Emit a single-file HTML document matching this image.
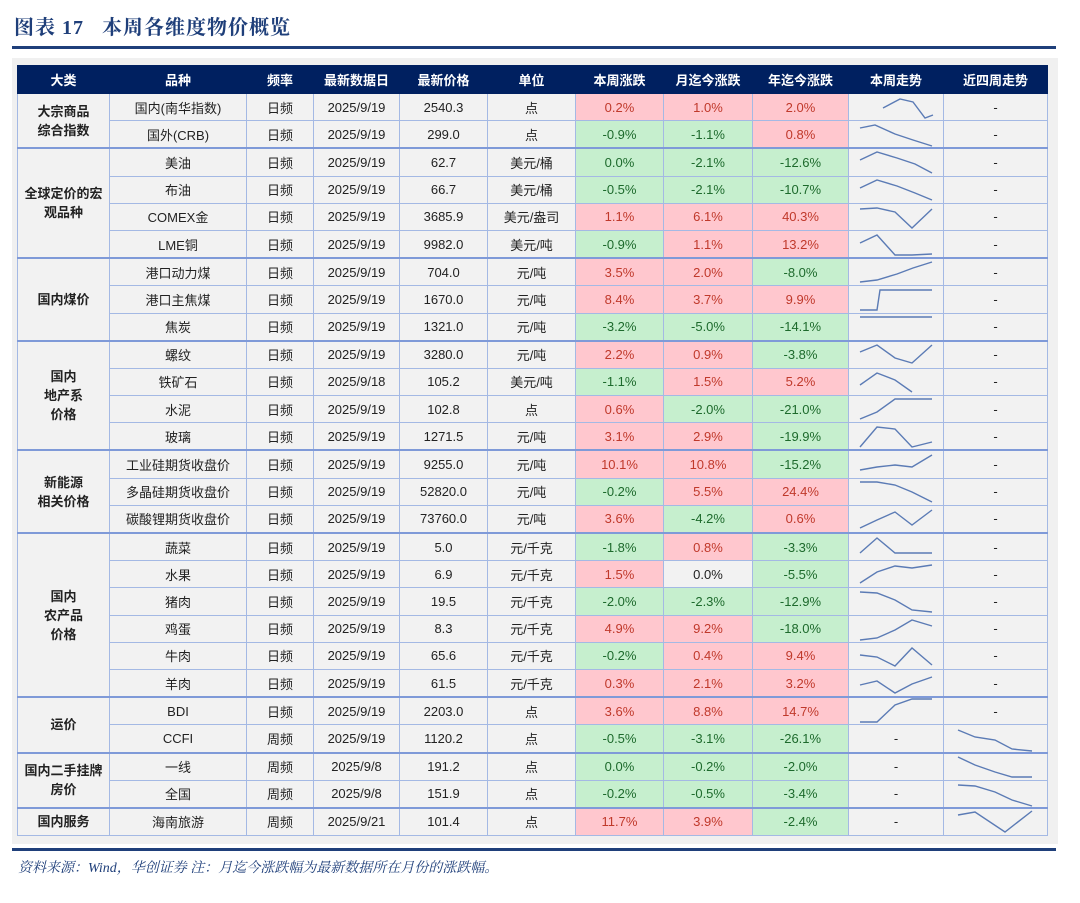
<!DOCTYPE html>
<html><head><meta charset="utf-8"><style>
body{margin:0;width:1080px;height:903px;background:#fff;position:relative;font-family:"Liberation Sans","Noto Sans CJK SC",sans-serif;overflow:hidden}
.title{position:absolute;left:14px;top:11px;font-family:"Liberation Serif","Noto Serif CJK SC",serif;font-size:20px;font-weight:bold;color:#1f3f7a;letter-spacing:1px}
.rule{position:absolute;left:12px;width:1044px;background:#1f3f7a}
.panel{position:absolute;left:12px;top:58px;width:1046px;height:786px;background:#f0f0f0}
table{position:absolute;left:17px;top:65px;width:1030px;border-collapse:collapse;table-layout:fixed;font-size:13px;color:#222}
td,th{border:1px solid #a4b9e4;text-align:center;padding:0;height:26.2px;background:#f2f2f2;white-space:nowrap;overflow:hidden}
th{background:#002060;color:#fff;font-weight:bold;height:27px;border-color:#002060}
td.c{font-weight:bold;white-space:normal;line-height:19px}
.r{background:#ffc7ce;color:#c0392b}
.g{background:#c6efce;color:#1d6a2c}
tr.s td{border-top:2px solid #7f9ad8}
.foot{position:absolute;left:18px;top:857px;font-family:"Liberation Serif","Noto Serif CJK SC",serif;font-style:italic;font-size:14px;color:#1f3f7a}
svg{position:absolute;left:0;top:0}
</style></head><body>
<div class="title">图表 17&nbsp;&nbsp;&nbsp;本周各维度物价概览</div>
<div class="rule" style="top:46px;height:3px"></div>
<div class="panel"></div>
<table>
<colgroup><col style="width:92px"><col style="width:137px"><col style="width:67px"><col style="width:86px"><col style="width:88px"><col style="width:88px"><col style="width:88px"><col style="width:89px"><col style="width:96px"><col style="width:95px"><col style="width:104px"></colgroup>
<tr><th>大类</th><th>品种</th><th>频率</th><th>最新数据日</th><th>最新价格</th><th>单位</th><th>本周涨跌</th><th>月迄今涨跌</th><th>年迄今涨跌</th><th>本周走势</th><th>近四周走势</th></tr>
<tr><td class="c" rowspan="2">大宗商品<br>综合指数</td><td>国内(南华指数)</td><td>日频</td><td>2025/9/19</td><td>2540.3</td><td>点</td><td class="r">0.2%</td><td class="r">1.0%</td><td class="r">2.0%</td><td></td><td>-</td></tr>
<tr><td>国外(CRB)</td><td>日频</td><td>2025/9/19</td><td>299.0</td><td>点</td><td class="g">-0.9%</td><td class="g">-1.1%</td><td class="r">0.8%</td><td></td><td>-</td></tr>
<tr class="s"><td class="c" rowspan="4">全球定价的宏<br>观品种</td><td>美油</td><td>日频</td><td>2025/9/19</td><td>62.7</td><td>美元/桶</td><td class="g">0.0%</td><td class="g">-2.1%</td><td class="g">-12.6%</td><td></td><td>-</td></tr>
<tr><td>布油</td><td>日频</td><td>2025/9/19</td><td>66.7</td><td>美元/桶</td><td class="g">-0.5%</td><td class="g">-2.1%</td><td class="g">-10.7%</td><td></td><td>-</td></tr>
<tr><td>COMEX金</td><td>日频</td><td>2025/9/19</td><td>3685.9</td><td>美元/盎司</td><td class="r">1.1%</td><td class="r">6.1%</td><td class="r">40.3%</td><td></td><td>-</td></tr>
<tr><td>LME铜</td><td>日频</td><td>2025/9/19</td><td>9982.0</td><td>美元/吨</td><td class="g">-0.9%</td><td class="r">1.1%</td><td class="r">13.2%</td><td></td><td>-</td></tr>
<tr class="s"><td class="c" rowspan="3">国内煤价</td><td>港口动力煤</td><td>日频</td><td>2025/9/19</td><td>704.0</td><td>元/吨</td><td class="r">3.5%</td><td class="r">2.0%</td><td class="g">-8.0%</td><td></td><td>-</td></tr>
<tr><td>港口主焦煤</td><td>日频</td><td>2025/9/19</td><td>1670.0</td><td>元/吨</td><td class="r">8.4%</td><td class="r">3.7%</td><td class="r">9.9%</td><td></td><td>-</td></tr>
<tr><td>焦炭</td><td>日频</td><td>2025/9/19</td><td>1321.0</td><td>元/吨</td><td class="g">-3.2%</td><td class="g">-5.0%</td><td class="g">-14.1%</td><td></td><td>-</td></tr>
<tr class="s"><td class="c" rowspan="4">国内<br>地产系<br>价格</td><td>螺纹</td><td>日频</td><td>2025/9/19</td><td>3280.0</td><td>元/吨</td><td class="r">2.2%</td><td class="r">0.9%</td><td class="g">-3.8%</td><td></td><td>-</td></tr>
<tr><td>铁矿石</td><td>日频</td><td>2025/9/18</td><td>105.2</td><td>美元/吨</td><td class="g">-1.1%</td><td class="r">1.5%</td><td class="r">5.2%</td><td></td><td>-</td></tr>
<tr><td>水泥</td><td>日频</td><td>2025/9/19</td><td>102.8</td><td>点</td><td class="r">0.6%</td><td class="g">-2.0%</td><td class="g">-21.0%</td><td></td><td>-</td></tr>
<tr><td>玻璃</td><td>日频</td><td>2025/9/19</td><td>1271.5</td><td>元/吨</td><td class="r">3.1%</td><td class="r">2.9%</td><td class="g">-19.9%</td><td></td><td>-</td></tr>
<tr class="s"><td class="c" rowspan="3">新能源<br>相关价格</td><td>工业硅期货收盘价</td><td>日频</td><td>2025/9/19</td><td>9255.0</td><td>元/吨</td><td class="r">10.1%</td><td class="r">10.8%</td><td class="g">-15.2%</td><td></td><td>-</td></tr>
<tr><td>多晶硅期货收盘价</td><td>日频</td><td>2025/9/19</td><td>52820.0</td><td>元/吨</td><td class="g">-0.2%</td><td class="r">5.5%</td><td class="r">24.4%</td><td></td><td>-</td></tr>
<tr><td>碳酸锂期货收盘价</td><td>日频</td><td>2025/9/19</td><td>73760.0</td><td>元/吨</td><td class="r">3.6%</td><td class="g">-4.2%</td><td class="r">0.6%</td><td></td><td>-</td></tr>
<tr class="s"><td class="c" rowspan="6">国内<br>农产品<br>价格</td><td>蔬菜</td><td>日频</td><td>2025/9/19</td><td>5.0</td><td>元/千克</td><td class="g">-1.8%</td><td class="r">0.8%</td><td class="g">-3.3%</td><td></td><td>-</td></tr>
<tr><td>水果</td><td>日频</td><td>2025/9/19</td><td>6.9</td><td>元/千克</td><td class="r">1.5%</td><td>0.0%</td><td class="g">-5.5%</td><td></td><td>-</td></tr>
<tr><td>猪肉</td><td>日频</td><td>2025/9/19</td><td>19.5</td><td>元/千克</td><td class="g">-2.0%</td><td class="g">-2.3%</td><td class="g">-12.9%</td><td></td><td>-</td></tr>
<tr><td>鸡蛋</td><td>日频</td><td>2025/9/19</td><td>8.3</td><td>元/千克</td><td class="r">4.9%</td><td class="r">9.2%</td><td class="g">-18.0%</td><td></td><td>-</td></tr>
<tr><td>牛肉</td><td>日频</td><td>2025/9/19</td><td>65.6</td><td>元/千克</td><td class="g">-0.2%</td><td class="r">0.4%</td><td class="r">9.4%</td><td></td><td>-</td></tr>
<tr><td>羊肉</td><td>日频</td><td>2025/9/19</td><td>61.5</td><td>元/千克</td><td class="r">0.3%</td><td class="r">2.1%</td><td class="r">3.2%</td><td></td><td>-</td></tr>
<tr class="s"><td class="c" rowspan="2">运价</td><td>BDI</td><td>日频</td><td>2025/9/19</td><td>2203.0</td><td>点</td><td class="r">3.6%</td><td class="r">8.8%</td><td class="r">14.7%</td><td></td><td>-</td></tr>
<tr><td>CCFI</td><td>周频</td><td>2025/9/19</td><td>1120.2</td><td>点</td><td class="g">-0.5%</td><td class="g">-3.1%</td><td class="g">-26.1%</td><td>-</td><td></td></tr>
<tr class="s"><td class="c" rowspan="2">国内二手挂牌<br>房价</td><td>一线</td><td>周频</td><td>2025/9/8</td><td>191.2</td><td>点</td><td class="g">0.0%</td><td class="g">-0.2%</td><td class="g">-2.0%</td><td>-</td><td></td></tr>
<tr><td>全国</td><td>周频</td><td>2025/9/8</td><td>151.9</td><td>点</td><td class="g">-0.2%</td><td class="g">-0.5%</td><td class="g">-3.4%</td><td>-</td><td></td></tr>
<tr class="s"><td class="c">国内服务</td><td>海南旅游</td><td>周频</td><td>2025/9/21</td><td>101.4</td><td>点</td><td class="r">11.7%</td><td class="r">3.9%</td><td class="g">-2.4%</td><td>-</td><td></td></tr>
</table>
<svg width="1080" height="903" fill="none" stroke="#5b7bb5" stroke-width="1.4">
<polyline points="883,108 900,99 913,102 925,118 933,115"/>
<polyline points="860,128 875,125 895,134 913,140 932,146"/>
<polyline points="860,160 877,152 897,158 915,164 932,173"/>
<polyline points="860,188 877,180 897,186 915,193 932,200"/>
<polyline points="860,209 877,208 895,212 912,228 932,209"/>
<polyline points="860,243 877,235 895,255 912,255 932,254"/>
<polyline points="860,282 877,280 897,274 913,268 932,262"/>
<polyline points="860,310 877,310 880,290 897,290 932,290"/>
<polyline points="860,317 932,317"/>
<polyline points="860,352 877,345 895,358 912,363 932,345"/>
<polyline points="860,385 877,373 895,380 912,392"/>
<polyline points="860,419 877,412 895,399 912,399 932,399"/>
<polyline points="860,447 877,427 895,429 912,447 932,442"/>
<polyline points="860,470 877,467 895,465 912,467 932,455"/>
<polyline points="860,482 877,482 895,485 912,492 932,502"/>
<polyline points="860,528 877,520 895,512 912,525 932,510"/>
<polyline points="860,553 877,538 895,553 912,553 932,553"/>
<polyline points="860,583 877,572 895,566 912,568 932,565"/>
<polyline points="860,592 877,593 895,600 912,610 932,612"/>
<polyline points="860,640 877,638 895,630 912,620 932,626"/>
<polyline points="860,655 877,657 895,666 912,648 932,665"/>
<polyline points="860,685 877,681 895,693 912,684 932,677"/>
<polyline points="860,722 877,722 895,705 912,699 932,699"/>
<polyline points="958,730 975,737 995,740 1012,749 1032,751"/>
<polyline points="958,757 975,765 995,772 1012,777 1032,777"/>
<polyline points="958,785 975,786 995,792 1012,800 1032,806"/>
<polyline points="958,815 975,812 1005,832 1032,811"/>
</svg>
<div class="rule" style="top:848px;height:3px"></div>
<div class="foot">资料来源：Wind，华创证券 注：月迄今涨跌幅为最新数据所在月份的涨跌幅。</div>
</body></html>
